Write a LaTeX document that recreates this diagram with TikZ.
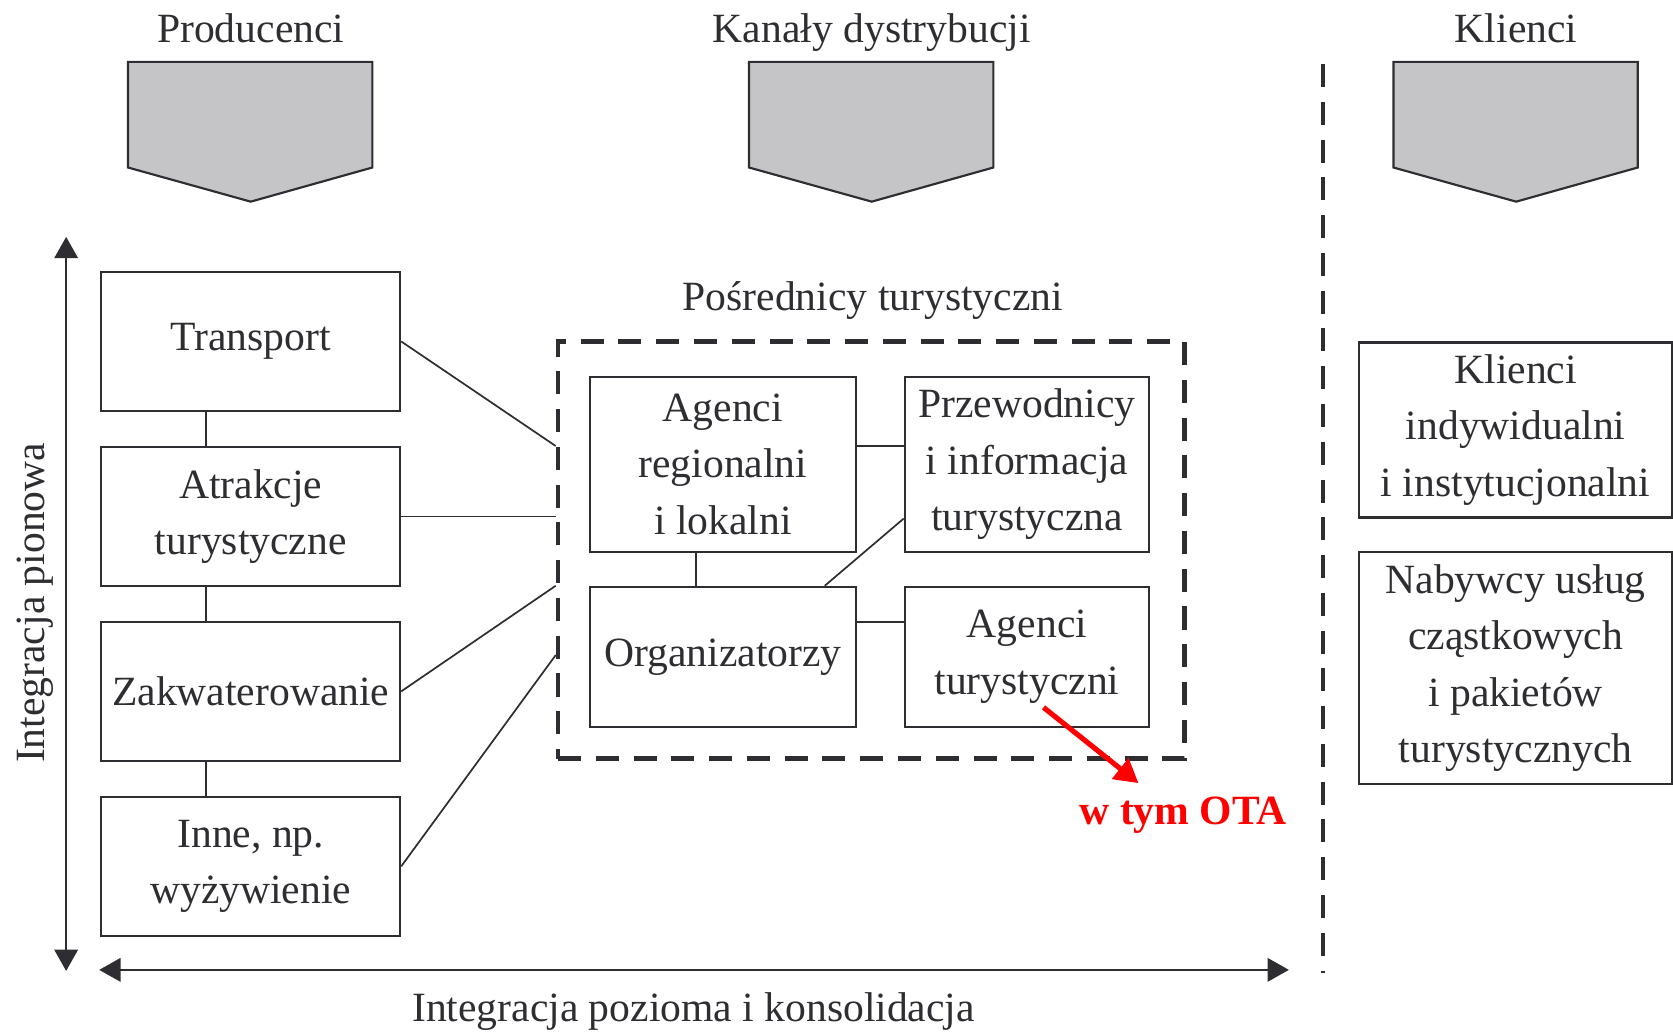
\documentclass[tikz,border=0pt]{standalone}
\usepackage{fontspec}
\setmainfont{Liberation Serif}
\usetikzlibrary{arrows.meta}
\definecolor{ink}{HTML}{2D2D32}
\definecolor{pent}{HTML}{C5C5C7}
\definecolor{otared}{HTML}{FF0000}
\begin{document}
\begin{tikzpicture}[x=0.5pt,y=-0.5pt,
  font=\fontsize{19.5}{26.5}\selectfont, text=ink,
  box/.style={draw=ink, line width=1pt, align=center, inner sep=0pt},
  conn/.style={draw=ink, line width=0.8pt},
  pentagon/.style={fill=pent, draw=ink, line width=1pt},
  dashline/.style={draw=ink, line width=2.2pt, dash pattern=on 10.8pt off 6.9pt},
  axisarrow/.style={draw=ink, line width=1pt, {Triangle[width=11pt,length=10pt]}-{Triangle[width=11pt,length=10pt]}},
  label/.style={anchor=base, inner sep=0pt}]
\useasboundingbox (0,0) rectangle (1568,969);

% header labels
\node[label] (lprod) at (235,40) {Producenci};
\node[label] (lkan) at (817,40) {Kanały dystrybucji};
\node[label] (lkl) at (1421,40) {Klienci};

% pentagons
\foreach \cx in {235,817,1421}{
  \filldraw[pentagon] ({\cx-115},58) -- ({\cx+114},58) -- ({\cx+114},157) -- (\cx,189) -- ({\cx-115},157) -- cycle;
}

% producers
\node[box, minimum width=140pt, minimum height=65pt] (tr) at (235,320) {Transport};
\node[box, minimum width=140pt, minimum height=65pt] (atr) at (235,484) {Atrakcje\\turystyczne};
\node[box, minimum width=140pt, minimum height=65pt] (zak) at (235,648) {Zakwaterowanie};
\node[box, minimum width=140pt, minimum height=65pt] (inn) at (235,812) {Inne, np.\\wyżywienie};

\draw[conn] ([xshift=-21pt]tr.south) -- ([xshift=-21pt]atr.north);
\draw[conn] ([xshift=-21pt]atr.south) -- ([xshift=-21pt]zak.north);
\draw[conn] ([xshift=-21pt]zak.south) -- ([xshift=-21pt]inn.north);

% intermediaries
\node[label] (lposr) at (818,291) {Pośrednicy turystyczni};
\node[dashline, minimum width=293.5pt, minimum height=195.5pt, inner sep=0pt] (posr) at (816.5,515.5) {};

\node[box, minimum width=124.5pt, minimum height=82pt] (ar) at (677.5,435) {Agenci\\regionalni\\i lokalni};
\node[box, minimum width=114.5pt, minimum height=82pt] (prz) at (962.5,435) {Przewodnicy\\i informacja\\turystyczna};
\node[box, minimum width=124.5pt, minimum height=65.5pt] (org) at (677.5,615.5) {Organizatorzy};
\node[box, minimum width=114.5pt, minimum height=65.5pt] (agt) at (962.5,615.5) {Agenci\\turystyczni};

\draw[conn] ([yshift=8.5pt]ar.east) -- ([yshift=8.5pt]prz.west);
\draw[conn] ([xshift=-12.75pt]ar.south) -- ([xshift=-12.75pt]org.north);
\draw[conn] ([xshift=47.75pt]org.north) -- ([yshift=-25.5pt]prz.west);
\draw[conn] ([yshift=16.25pt]org.east) -- ([yshift=16.25pt]agt.west);

\draw[conn] (tr.east) -- ([yshift=48.75pt]posr.west);
\draw[conn] (atr.east) -- ([yshift=15.75pt]posr.west);
\draw[conn] (zak.east) -- ([yshift=-16.75pt]posr.west);
\draw[conn] (inn.east) -- ([yshift=-49.25pt]posr.west);

% OTA
\node[label, text=otared, font=\bfseries\fontsize{19.5}{24}\selectfont] (ota) at (1109,773) {w tym OTA};
\coordinate (otastart) at (978,663);
\coordinate (otaend) at (1067,734);
\draw[otared, line width=2.4pt, -{Triangle[width=12pt,length=11pt]}] (otastart) -- (otaend);

% divider
\coordinate (dtop) at (1240,60);
\coordinate (dbot) at (1240,912);
\draw[dashline] (dtop) -- (dbot);

% clients
\node[box, minimum width=146.5pt, minimum height=82pt] (kli) at (1420.5,403) {Klienci\\indywidualni\\i instytucjonalni};
\node[box, minimum width=146.5pt, minimum height=109pt] (nab) at (1420.5,626) {Nabywcy usług\\cząstkowych\\i pakietów\\turystycznych};

% axes
\coordinate (vtop) at (62,222);
\coordinate (vbot) at (62,910);
\draw[axisarrow] (vtop) -- (vbot);
\coordinate (hleft) at (93,909);
\coordinate (hright) at (1208,909);
\draw[axisarrow] (hleft) -- (hright);

\node[label, rotate=90] (lpion) at (42,565) {Integracja pionowa};
\node[label] (lpoz) at (650,957) {Integracja pozioma i konsolidacja};
\end{tikzpicture}
\end{document}
